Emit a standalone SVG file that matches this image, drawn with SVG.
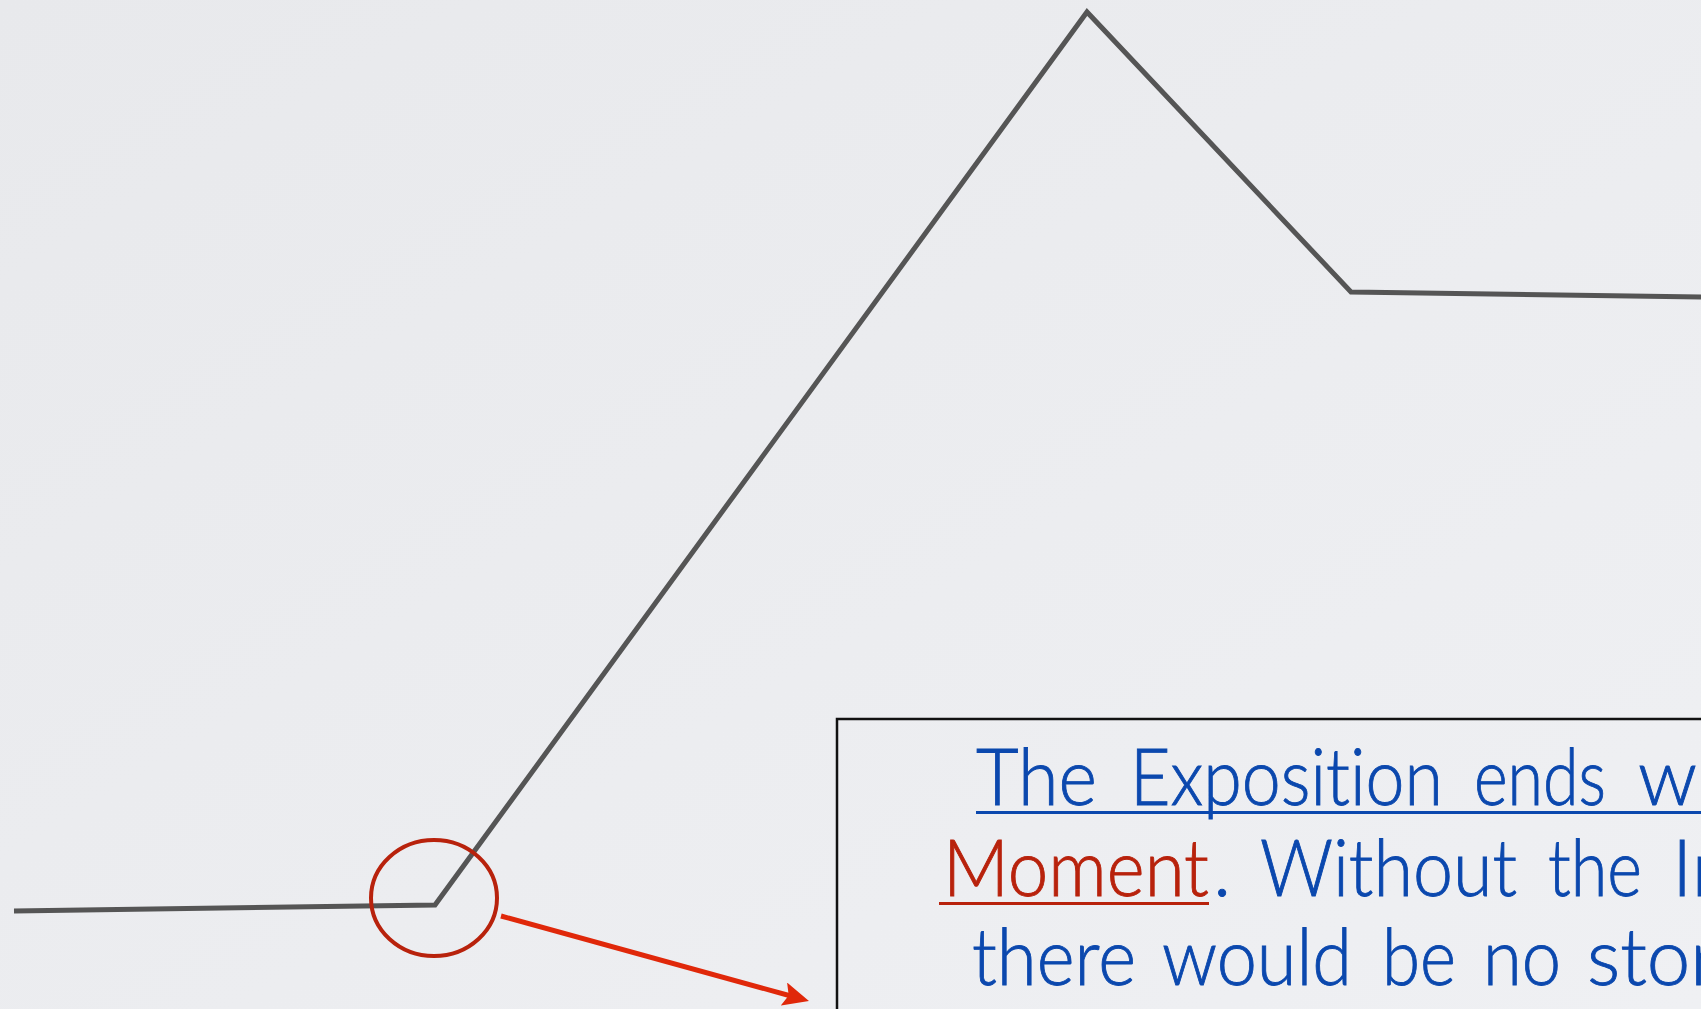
<svg xmlns="http://www.w3.org/2000/svg" width="1701" height="1009" viewBox="0 0 1701 1009">
  <defs>
    <linearGradient id="bg" x1="0" y1="0" x2="1" y2="1">
      <stop offset="0" stop-color="#e8e9ec"/>
      <stop offset="1" stop-color="#eff0f3"/>
    </linearGradient>
    <marker id="arrowhead" viewBox="0 0 26 24" refX="11" refY="12" markerWidth="26" markerHeight="24" markerUnits="userSpaceOnUse" orient="auto">
      <path d="M0,0 L26,12 L0,24 L5,12 Z" fill="#e0280a"/>
    </marker>
    <style>
      .plot { fill: none; stroke: #555555; stroke-width: 5; stroke-linejoin: miter; }
      .txt { font-family: "Lato", "Open Sans", "Liberation Sans", sans-serif; font-weight: 300; font-size: 78px; font-variant-ligatures: none; stroke-width: 0.9px; }
      .blue { fill: #0b48ae; stroke: #0b48ae; }
      .red { fill: #b8220c; stroke: #b8220c; }
    </style>
  </defs>
  <rect width="1701" height="1009" fill="url(#bg)"/>

  <g id="plot-line">
    <polyline class="plot" points="14,911 435,905 1087,12 1351,292 1701,297"/>
  </g>

  <g id="highlight-circle">
    <ellipse cx="434" cy="898" rx="63" ry="58" fill="none" stroke="#b8220c" stroke-width="4"/>
  </g>

  <g id="connectors">
    <line x1="501" y1="916" x2="794.5" y2="997" stroke="#e0280a" stroke-width="5" marker-end="url(#arrowhead)"/>
  </g>

  <g id="text-box">
    <rect x="837" y="719" width="900" height="400" fill="none" stroke="#111111" stroke-width="2.5"/>
    <text class="txt blue" y="805">
      <tspan x="976" textLength="121" lengthAdjust="spacingAndGlyphs">The</tspan>
      <tspan x="1130" textLength="313" lengthAdjust="spacingAndGlyphs">Exposition</tspan>
      <tspan x="1474" textLength="132" lengthAdjust="spacingAndGlyphs">ends</tspan>
      <tspan x="1638" textLength="59" lengthAdjust="spacingAndGlyphs">w</tspan>
    </text>
    <rect x="976" y="811" width="725" height="3" fill="#0b48ae"/>
    <text class="txt" y="896">
      <tspan class="red" x="943" textLength="266" lengthAdjust="spacingAndGlyphs">Moment</tspan>
      <tspan class="blue" x="1213">.</tspan>
      <tspan class="blue" x="1260" textLength="257" lengthAdjust="spacingAndGlyphs">Without</tspan>
      <tspan class="blue" x="1548" textLength="94" lengthAdjust="spacingAndGlyphs">the</tspan>
      <tspan class="blue" x="1672">In</tspan>
    </text>
    <rect x="939" y="902" width="270" height="3" fill="#b8220c"/>
    <text class="txt blue" y="985">
      <tspan x="972" textLength="164" lengthAdjust="spacingAndGlyphs">there</tspan>
      <tspan x="1162" textLength="190" lengthAdjust="spacingAndGlyphs">would</tspan>
      <tspan x="1382" textLength="74" lengthAdjust="spacingAndGlyphs">be</tspan>
      <tspan x="1483" textLength="78" lengthAdjust="spacingAndGlyphs">no</tspan>
      <tspan x="1587">stor</tspan>
    </text>
  </g>
</svg>
